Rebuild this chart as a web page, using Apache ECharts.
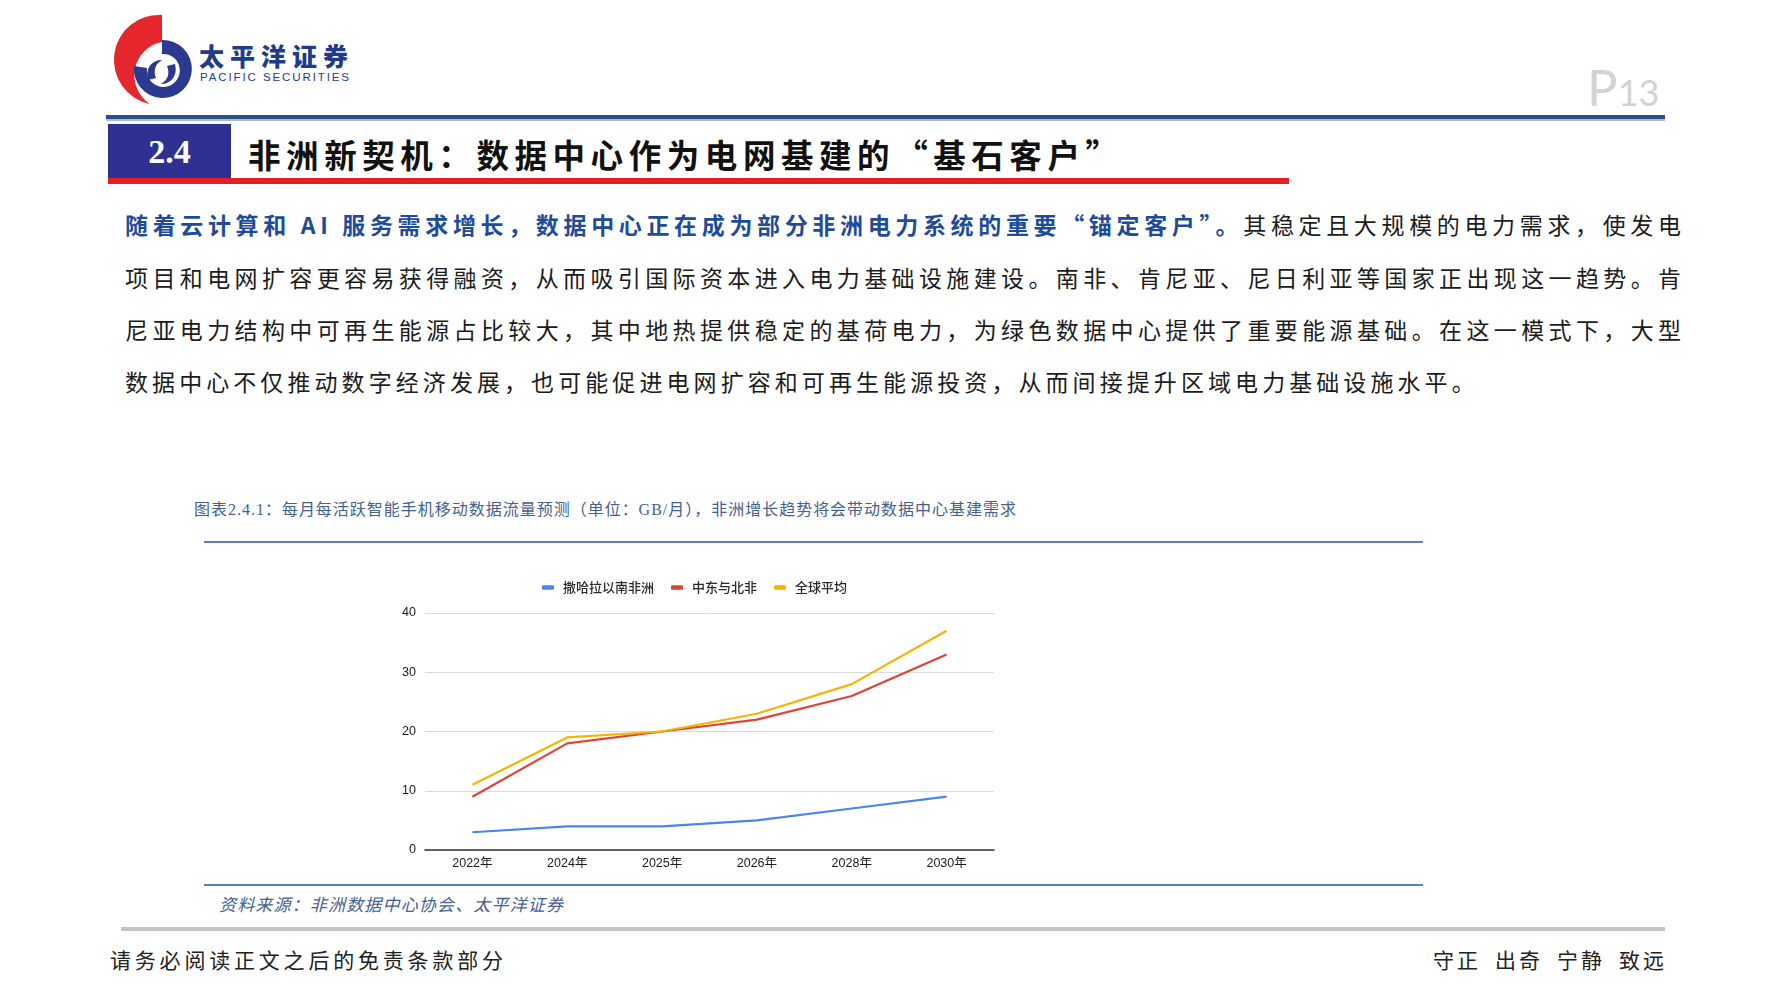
<!DOCTYPE html>
<html><head><meta charset="utf-8">
<script src="https://cdn.jsdelivr.net/npm/echarts@6/dist/echarts.min.js"></script>
<style>
html,body{margin:0;padding:0;background:#fff;}
body{width:1786px;height:1005px;position:relative;overflow:hidden;font-family:"Noto Sans CJK SC","Noto Sans",sans-serif;}
.abs{position:absolute;white-space:nowrap;}
.para{font-size:23px;line-height:30px;color:#1c1c1c;left:125px;}
.blue{color:#1e4c9a;font-weight:700;}
</style></head>
<body>
<!-- logo -->
<svg class="abs" style="left:100px;top:10px" width="100" height="100" viewBox="100 10 100 100">
  <path d="M162 15 L162 42 A34 34 0 0 0 150 104 A45 45 0 0 1 162 15 Z" fill="#e5262d"/>
  <path d="M162 40 A29 29 0 1 1 134 66 L147 68 A16.5 16.5 0 1 0 162 54 Z" fill="#2b3a8f"/>
  <path d="M148 80 C145 68 152 60 162 60 C155 64 153 71 156 78 Z" fill="#2b3a8f"/>
  <path d="M175 64 C178 76 171 84 161 84 C168 80 170 73 167 66 Z" fill="#2b3a8f"/>
</svg>
<div class="abs" style="left:199px;top:40px;font-size:25px;line-height:30px;font-weight:900;color:#1f3c8c;" data-w="149">太平洋证券</div>
<div class="abs" style="left:200px;top:70px;font-size:11.5px;line-height:14px;color:#1f3c8c;font-family:'Liberation Sans',Arial,sans-serif;" data-w="149">PACIFIC SECURITIES</div>
<div class="abs" style="left:1587px;top:56px;color:#d3d3d3;font-family:Lato,'Open Sans',sans-serif;"><span style="font-size:51px;">P</span><span style="font-size:36px;">13</span></div>
<div class="abs" style="left:106px;top:115px;width:1559px;height:4px;background:#2c4e86;"></div>
<div class="abs" style="left:106px;top:119px;width:1559px;height:2px;background:#a9bcd9;"></div>

<!-- section title -->
<div class="abs" style="left:108px;top:124px;width:123px;height:55px;background:#2e3192;"></div>
<div class="abs" style="left:108px;top:178px;width:1181px;height:6px;background:#e31e27;"></div>
<div class="abs" style="left:108px;top:131px;width:123px;text-align:center;font-family:'Liberation Serif','Times New Roman',serif;font-weight:700;font-size:34px;line-height:42px;color:#fff;">2.4</div>
<div class="abs" style="left:248px;top:134px;font-size:32.5px;line-height:40px;font-weight:700;color:#111;" data-w="870">非洲新契机：数据中心作为电网基建的“基石客户”</div>

<!-- paragraph -->
<div class="abs para" style="top:209px;" data-w="1556"><span class="blue">随着云计算和 AI 服务需求增长，数据中心正在成为部分非洲电力系统的重要“锚定客户”。</span>其稳定且大规模的电力需求，使发电</div>
<div class="abs para" id="l2" style="top:262px;" data-w="1556">项目和电网扩容更容易获得融资，从而吸引国际资本进入电力基础设施建设。南非、肯尼亚、尼日利亚等国家正出现这一趋势。肯</div>
<div class="abs para" style="top:314px;" data-w="1556">尼亚电力结构中可再生能源占比较大，其中地热提供稳定的基荷电力，为绿色数据中心提供了重要能源基础。在这一模式下，大型</div>
<div class="abs para" id="l4" style="top:366px;">数据中心不仅推动数字经济发展，也可能促进电网扩容和可再生能源投资，从而间接提升区域电力基础设施水平。</div>

<!-- chart caption -->
<div class="abs" style="left:194px;top:500px;font-size:16px;line-height:20px;color:#44618f;font-family:'Liberation Serif','Noto Sans CJK SC',serif;" data-w="822">图表2.4.1：每月每活跃智能手机移动数据流量预测（单位：GB/月），非洲增长趋势将会带动数据中心基建需求</div>
<div class="abs" style="left:204px;top:541px;width:1219px;height:2px;background:#5b80b8;"></div>
<div id="chart" class="abs" style="left:360px;top:570px;width:680px;height:310px;"></div>
<div class="abs" style="left:204px;top:884px;width:1219px;height:2px;background:#5b80b8;"></div>
<div class="abs" style="left:219px;top:893px;font-size:17px;line-height:22px;color:#44618f;font-style:italic;" data-w="344">资料来源：非洲数据中心协会、太平洋证券</div>

<!-- footer -->
<div class="abs" style="left:121px;top:927px;width:1544px;height:4px;background:#c3c3c3;"></div>
<div class="abs" style="left:110px;top:946px;font-size:21px;line-height:26px;color:#222;" data-w="393">请务必阅读正文之后的免责条款部分</div>
<div class="abs" style="left:1433px;top:946px;font-size:21px;line-height:26px;color:#222;word-spacing:6px;" data-w="231">守正 出奇 宁静 致远</div>

<script>
// ---- chart data ----
const categories = ['2022年', '2024年', '2025年', '2026年', '2028年', '2030年'];
const seriesNames = ['撒哈拉以南非洲', '中东与北非', '全球平均'];
const subSaharan = [3, 4, 4, 5, 7, 9];
const menaValues = [9, 18, 20, 22, 26, 33];
const globalAvg = [11, 19, 20, 23, 28, 37];
const yMin = 0, yMax = 40, yInterval = 10;
const seriesColors = ['#4a86e8', '#db4437', '#f4b400'];

// ---- fit text lines to widths ----
let l2ls = 0;
document.querySelectorAll('[data-w]').forEach(el => {
  el.style.letterSpacing = '0px';
  const w = el.getBoundingClientRect().width;
  const n = [...el.textContent].length;
  const ls = (+el.dataset.w - w) / (n - 1);
  el.style.letterSpacing = ls + 'px';
  if (el.id === 'l2') l2ls = ls;
});
document.getElementById('l4').style.letterSpacing = (l2ls - 0.3) + 'px';

const chart = echarts.init(document.getElementById('chart'), null, {renderer: 'canvas'});
const values = [subSaharan, menaValues, globalAvg];
chart.setOption({
  animation: false,
  color: seriesColors,
  legend: {
    left: 177, top: 6,
    icon: 'roundRect', itemWidth: 12, itemHeight: 4.5, itemGap: 17,
    textStyle: {fontSize: 13, color: '#2a2a2a', fontWeight: 500, fontFamily: 'Noto Sans CJK SC', padding: [0, 0, 0, 4]},
    data: seriesNames
  },
  grid: {left: 65, right: 46, top: 43, bottom: 30},
  xAxis: {
    type: 'category', data: categories, boundaryGap: true,
    axisLine: {lineStyle: {color: '#333', width: 1.5}},
    axisTick: {show: false},
    axisLabel: {fontSize: 12.5, color: '#1a1a1a', margin: 7, fontFamily: 'Liberation Sans, Noto Sans CJK SC'}
  },
  yAxis: {
    type: 'value', min: yMin, max: yMax, interval: yInterval,
    axisLine: {show: false}, axisTick: {show: false},
    splitLine: {lineStyle: {color: '#d9d9d9', width: 1}},
    axisLabel: {fontSize: 12.5, color: '#1a1a1a', margin: 9, fontFamily: 'Liberation Sans'}
  },
  series: seriesNames.map((name, i) => ({
    name, type: 'line', data: values[i], symbol: 'none',
    lineStyle: {width: 2.2}
  }))
});
</script>
</body></html>
